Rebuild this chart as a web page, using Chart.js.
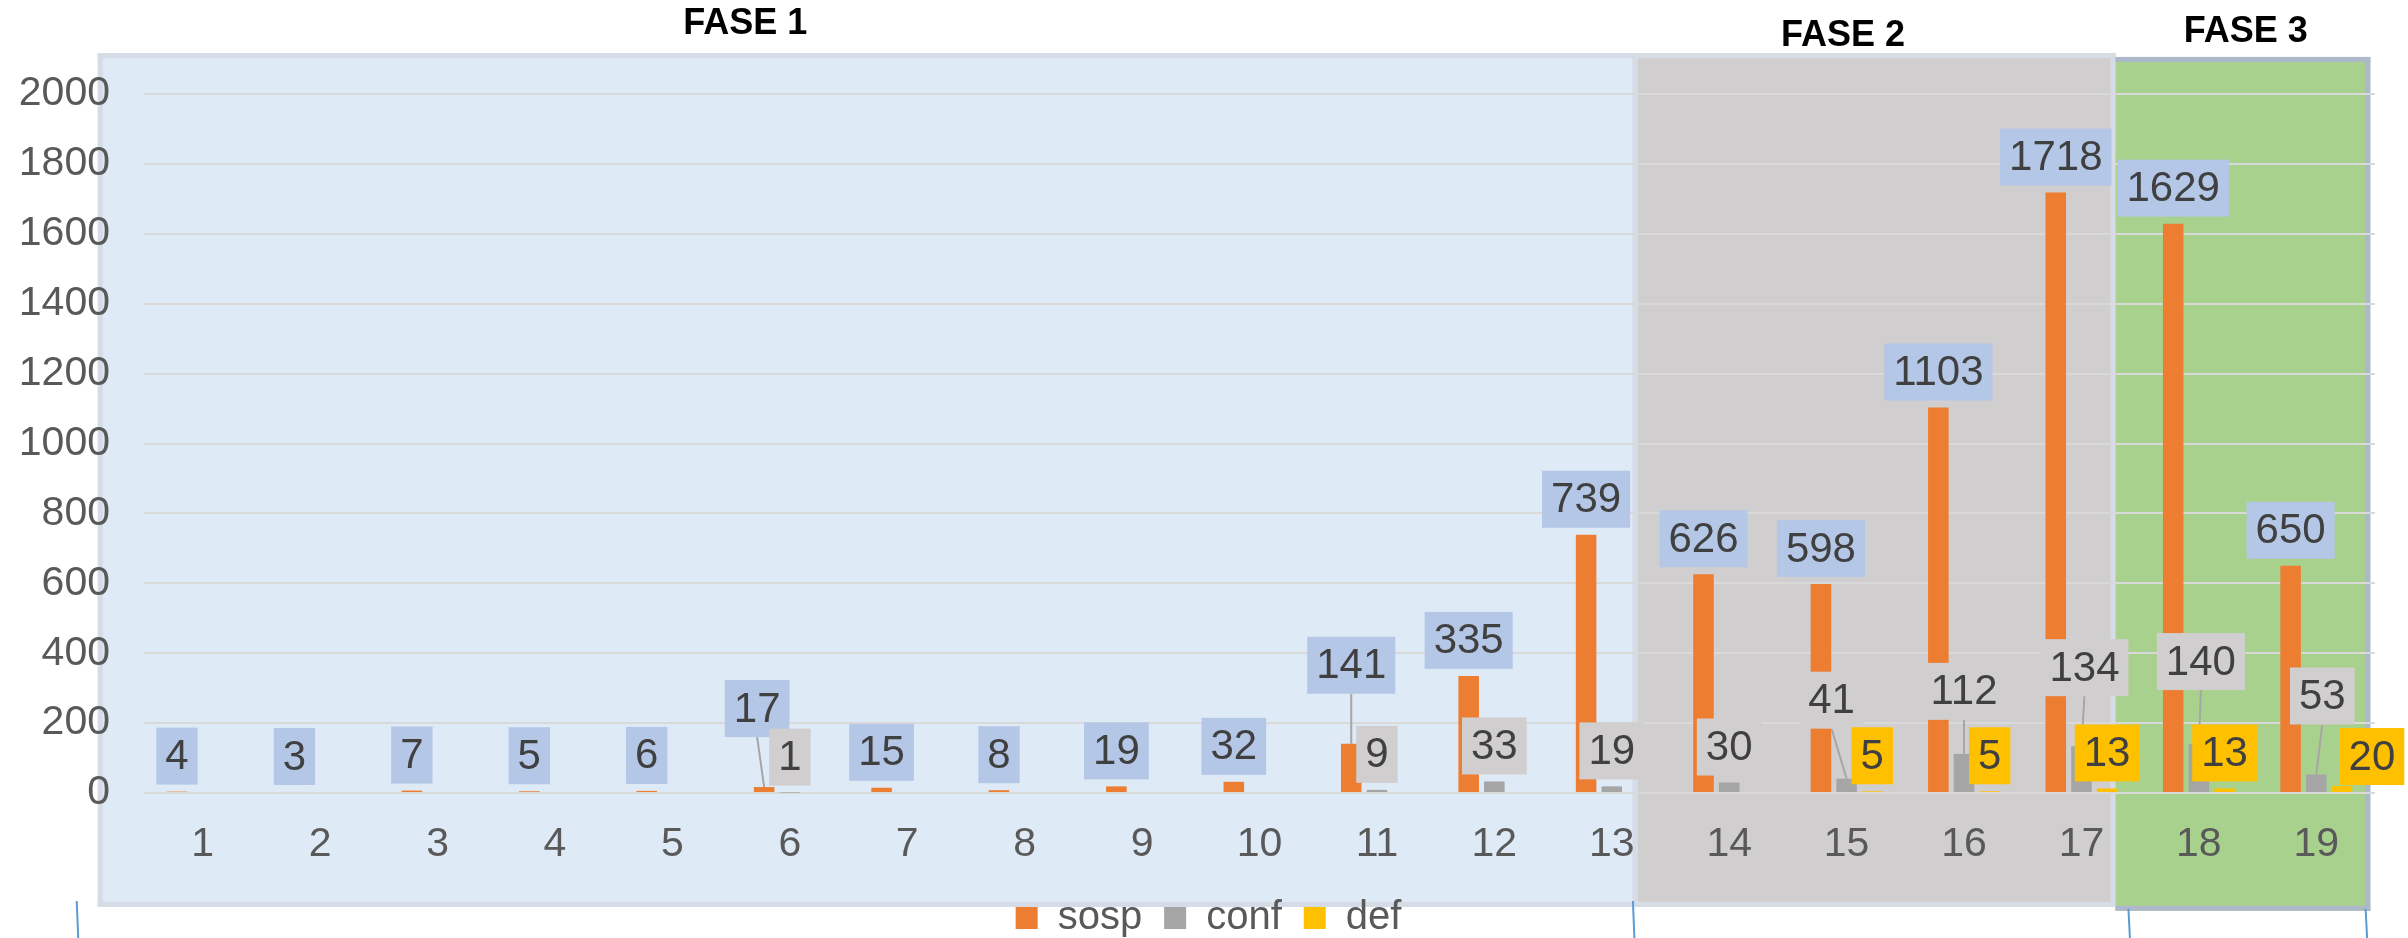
<!DOCTYPE html>
<html>
<head>
<meta charset="utf-8">
<script src="https://cdn.jsdelivr.net/npm/chart.js@4.4.1/dist/chart.umd.min.js"></script>
<style>
  html, body { margin: 0; padding: 0; background: #ffffff; }
  #wrap { width: 2408px; height: 938px; position: relative; }
  canvas { display: block; }
</style>
</head>
<body>
<div id="wrap"><canvas id="chart" width="2408" height="938"></canvas></div>
<script>
// ---------------- data ----------------
const categories = ['1','2','3','4','5','6','7','8','9','10','11','12','13','14','15','16','17','18','19'];
const sosp = [4, 3, 7, 5, 6, 17, 15, 8, 19, 32, 141, 335, 739, 626, 598, 1103, 1718, 1629, 650];
const conf = [null, null, null, null, null, 1, null, null, null, null, 9, 33, 19, 30, 41, 112, 134, 140, 53];
const def  = [null, null, null, null, null, null, null, null, null, null, null, null, null, null, 5, 5, 13, 13, 20];
const seriesNames = ['sosp', 'conf', 'def'];
const phaseNames = ['FASE 1', 'FASE 2', 'FASE 3'];
const yMin = 0, yMax = 2000, yStep = 200;

// ---------------- styling ----------------
const FONT = '"Liberation Sans", Arial, Helvetica, sans-serif';
const seriesColors = ['#ED7D31', '#A5A5A5', '#FFC000'];
const labelBoxColors = ['#B4C7E7', '#D0CECE', '#FFC000'];
// phase panels in category-index units (decoration), vertical in value units
const phasePanels = [
  { x0: -0.894, x1: 12.22, top: 2117, bottom: -326, fill: '#DEEAF6', border: '#D6DCE5', sides: 'tlrb' },
  { x0: 12.18,  x1: 16.29, top: 2117, bottom: -326, fill: '#D0CECE', border: '#D6DCE5', sides: 'tlrb' },
  { x0: 16.29,  x1: 18.46, top: 2106, bottom: -337, fill: '#A9D18E', border: '#ADB9CA', sides: 'trb' }
];
const phaseTitlePos = [ { x: 4.62, y: 2200 }, { x: 13.97, y: 2166 }, { x: 17.40, y: 2176 } ];
const bracketTicks = [ { x: -1.073, y0: -309 }, { x: 12.18, y0: -309 }, { x: 16.40, y0: -331 }, { x: 18.42, y0: -331 } ];
// label nudges (pixels) for labels moved away from default position
const labelNudges = {
  '0:5': [-7, -43], '0:10': [0, -43],
  '1:14': [-15, -43], '1:15': [0, -27], '1:16': [3, -43], '1:17': [2, -47], '1:18': [6, -43],
  '2:18': [30, 6]
};
const legendShift = 21;

function xAt(chart, idx) {
  const xs = chart.scales.x;
  const p0 = xs.getPixelForValue(0), p1 = xs.getPixelForValue(1);
  return p0 + idx * (p1 - p0);
}

const panelsPlugin = {
  id: 'panels',
  afterLayout(chart) {
    if (chart.legend) { chart.legend.left += legendShift; chart.legend.right += legendShift; }
  },
  beforeDraw(chart) {
    const ctx = chart.ctx, ys = chart.scales.y;
    ctx.save();
    const bw = 5;
    phasePanels.forEach(p => {
      const L = xAt(chart, p.x0), R = xAt(chart, p.x1);
      const T = ys.getPixelForValue(p.top), B = ys.getPixelForValue(p.bottom);
      ctx.fillStyle = p.fill;
      ctx.fillRect(L, T, R - L, B - T);
      ctx.fillStyle = p.border;
      if (p.sides.includes('t')) ctx.fillRect(L, T, R - L, bw);
      if (p.sides.includes('b')) ctx.fillRect(L, B - bw, R - L, bw);
      if (p.sides.includes('l')) ctx.fillRect(L, T, bw, B - T);
      if (p.sides.includes('r')) ctx.fillRect(R - bw, T, bw, B - T);
    });
    // titles
    ctx.fillStyle = '#000000';
    ctx.font = 'bold 36px ' + FONT;
    ctx.textAlign = 'center';
    ctx.textBaseline = 'middle';
    phaseNames.forEach((n, i) => {
      ctx.fillText(n, xAt(chart, phaseTitlePos[i].x), ys.getPixelForValue(phaseTitlePos[i].y));
    });
    // thin blue bracket ticks under the panels
    ctx.strokeStyle = '#5B9BD5';
    ctx.lineWidth = 2;
    bracketTicks.forEach(t => {
      const x = xAt(chart, t.x);
      ctx.beginPath();
      ctx.moveTo(x, ys.getPixelForValue(t.y0));
      ctx.lineTo(x + 1.5, chart.height);
      ctx.stroke();
    });
    ctx.restore();
  }
};

const labelsPlugin = {
  id: 'valueLabels',
  afterDatasetsDraw(chart) {
    const ctx = chart.ctx;
    ctx.save();
    ctx.font = '42px ' + FONT;
    ctx.textAlign = 'center';
    ctx.textBaseline = 'middle';
    chart.data.datasets.forEach((ds, di) => {
      const meta = chart.getDatasetMeta(di);
      meta.data.forEach((bar, i) => {
        const v = ds.data[i];
        if (v === null || v === undefined) return;
        const txt = String(v);
        const w = ctx.measureText(txt).width + 18, h = 57;
        const n = labelNudges[di + ':' + i] || [0, 0];
        const cx = bar.x + n[0];
        const bottom = bar.y - 7 + n[1];
        const top = bottom - h;
        if (n[1] < -10) {
          ctx.strokeStyle = '#A6A6A6';
          ctx.lineWidth = 2;
          ctx.beginPath();
          ctx.moveTo(cx, bottom);
          ctx.lineTo(bar.x, bar.y);
          ctx.stroke();
        }
        ctx.fillStyle = labelBoxColors[di];
        ctx.fillRect(cx - w / 2, top, w, h);
        ctx.fillStyle = '#404040';
        ctx.fillText(txt, cx, top + h / 2 + 1.5);
      });
    });
    ctx.restore();
  }
};

const seriesData = [sosp, conf, def];
new Chart(document.getElementById('chart'), {
  type: 'bar',
  data: {
    labels: categories,
    datasets: seriesNames.map((name, i) => ({
      label: name,
      data: seriesData[i],
      backgroundColor: seriesColors[i],
      borderWidth: 0,
      categoryPercentage: 0.656,
      barPercentage: 0.8
    }))
  },
  options: {
    responsive: false,
    maintainAspectRatio: false,
    animation: false,
    devicePixelRatio: 1,
    layout: { padding: { top: 94, left: 0, right: 33, bottom: -10 } },
    plugins: {
      tooltip: { enabled: false },
      legend: {
        position: 'bottom',
        labels: {
          boxWidth: 22, boxHeight: 22, padding: 22,
          color: '#595959',
          font: { family: FONT, size: 40 }
        }
      }
    },
    scales: {
      x: {
        grid: { display: false, drawTicks: false },
        border: { display: false },
        ticks: { color: '#595959', font: { family: FONT, size: 41 }, padding: 27, maxRotation: 0, autoSkip: false },
        afterFit(s) { s.height = 83; }
      },
      y: {
        min: yMin, max: yMax,
        grid: { color: '#D9D9D9', lineWidth: 2, drawTicks: false },
        border: { display: false },
        ticks: {
          stepSize: yStep, color: '#595959', font: { family: FONT, size: 41 }, padding: 34,
          callback: (v) => String(v)
        },
        afterFit(s) { s.width = 144; }
      }
    }
  },
  plugins: [panelsPlugin, labelsPlugin]
});
</script>
</body>
</html>
